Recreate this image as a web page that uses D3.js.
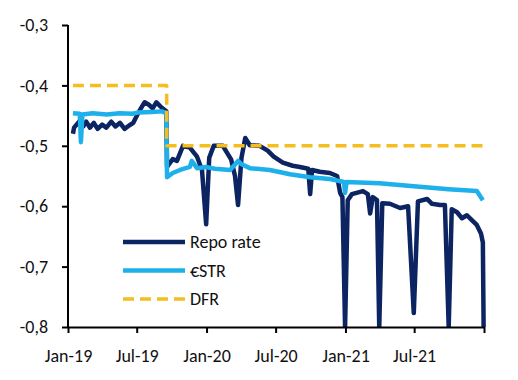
<!DOCTYPE html>
<html>
<head>
<meta charset="utf-8">
<script src="https://cdn.jsdelivr.net/npm/d3@7"></script>
<style>
  body { margin: 0; background: #fff; }
  svg text { font-family: Carlito, Calibri, Lato, sans-serif; font-size: 18px; fill: #111; }
</style>
</head>
<body>
<svg id="chart" width="518" height="380"></svg>
<script>
// values (percent)
const repoDates = ["2019-01-14","2019-01-17","2019-02-03","2019-02-10","2019-02-18","2019-02-28","2019-03-10","2019-03-20","2019-04-01","2019-04-12","2019-04-25","2019-05-06","2019-05-18","2019-05-30","2019-06-12","2019-06-22","2019-07-03","2019-07-14","2019-07-22","2019-08-02","2019-08-12","2019-08-22","2019-09-05","2019-09-17","2019-09-19","2019-09-27","2019-10-04","2019-10-15","2019-10-31","2019-11-18","2019-12-07","2019-12-20","2019-12-31","2020-01-08","2020-01-20","2020-02-13","2020-03-06","2020-03-16","2020-03-24","2020-04-02","2020-04-12","2020-04-24","2020-05-20","2020-06-10","2020-06-26","2020-07-20","2020-08-15","2020-09-03","2020-09-25","2020-09-30","2020-10-05","2020-10-25","2020-11-21","2020-12-10","2020-12-18","2020-12-24","2020-12-31","2021-01-07","2021-01-18","2021-02-16","2021-03-01","2021-03-07","2021-03-14","2021-03-25","2021-03-31","2021-04-08","2021-04-28","2021-05-25","2021-06-15","2021-06-30","2021-07-11","2021-08-04","2021-08-17","2021-09-07","2021-09-20","2021-09-30","2021-10-08","2021-10-22","2021-11-04","2021-11-17","2021-11-30","2021-12-13","2021-12-24","2021-12-29","2021-12-31"];
const repoValues = [-0.48,-0.47,-0.457,-0.468,-0.46,-0.47,-0.462,-0.472,-0.465,-0.47,-0.46,-0.468,-0.462,-0.472,-0.466,-0.462,-0.448,-0.436,-0.428,-0.432,-0.438,-0.428,-0.437,-0.443,-0.535,-0.528,-0.522,-0.525,-0.5,-0.503,-0.518,-0.54,-0.63,-0.52,-0.5,-0.5,-0.523,-0.55,-0.598,-0.52,-0.487,-0.499,-0.5,-0.508,-0.518,-0.528,-0.533,-0.535,-0.538,-0.58,-0.54,-0.543,-0.545,-0.55,-0.578,-0.585,-0.8,-0.59,-0.58,-0.575,-0.58,-0.612,-0.585,-0.59,-0.8,-0.595,-0.596,-0.603,-0.6,-0.777,-0.592,-0.588,-0.596,-0.598,-0.598,-0.8,-0.605,-0.61,-0.62,-0.615,-0.623,-0.631,-0.645,-0.66,-0.8];

const estrDates = ["2019-01-14","2019-02-01","2019-02-04","2019-02-08","2019-03-07","2019-04-13","2019-05-17","2019-06-20","2019-07-03","2019-08-09","2019-09-05","2019-09-17","2019-09-19","2019-10-04","2019-10-23","2019-11-18","2019-11-23","2019-12-07","2019-12-31","2020-01-23","2020-03-03","2020-03-24","2020-04-01","2020-04-24","2020-06-16","2020-08-08","2020-09-30","2020-11-21","2020-12-28","2020-12-31","2021-01-04","2021-03-31","2021-06-30","2021-09-30","2021-12-13","2021-12-29"];
const estrValues = [-0.446,-0.447,-0.494,-0.448,-0.446,-0.448,-0.446,-0.447,-0.445,-0.444,-0.443,-0.446,-0.552,-0.545,-0.54,-0.535,-0.525,-0.537,-0.535,-0.538,-0.54,-0.525,-0.53,-0.537,-0.54,-0.547,-0.552,-0.555,-0.56,-0.578,-0.56,-0.562,-0.567,-0.572,-0.575,-0.59];

const dfrDates = ["2019-01-14","2019-09-18","2019-09-18","2021-12-31"];
const dfrValues = [-0.4,-0.4,-0.5,-0.5];

const yTicks = [-0.8,-0.7,-0.6,-0.5,-0.4,-0.3];
const xTicks = ["2019-01-01","2019-07-01","2020-01-01","2020-07-01","2021-01-01","2021-07-01","2022-01-01"];
const seriesNames = ["Repo rate","€STR","DFR"];
const colors = ["#0c2462","#1db0ea","#f5bd20"];

const parse = d3.timeParse("%Y-%m-%d");
const svg = d3.select("#chart");

const x = d3.scaleTime().domain([parse("2019-01-01"), parse("2022-01-01")]).range([68, 484]);
const y = d3.scaleLinear().domain([-0.8, -0.3]).range([327, 25]);

svg.append("clipPath").attr("id", "plot")
  .append("rect").attr("x", 60).attr("y", 10).attr("width", 440).attr("height", 317);

const toPoints = (dates, vals) => dates.map((d, i) => ({ date: parse(d), v: vals[i] }));
const series = [
  toPoints(repoDates, repoValues),
  toPoints(estrDates, estrValues),
  toPoints(dfrDates, dfrValues)
];

const line = d3.line().x(d => x(d.date)).y(d => y(d.v));

series.forEach((pts, i) => {
  svg.append("path")
    .datum(pts)
    .attr("clip-path", "url(#plot)")
    .attr("fill", "none")
    .attr("stroke", colors[i])
    .attr("stroke-width", i === 2 ? 3.5 : 4.5)
    .attr("stroke-linejoin", "round")
    .attr("stroke-dasharray", i === 2 ? "11,6" : null)
    .attr("d", line);
});

// axes
const fmt = d => d3.format(".1f")(d).replace("−", "-").replace(".", ",");
const yAxis = svg.append("g").attr("transform", "translate(68,0)")
  .call(d3.axisLeft(y).tickValues(yTicks).tickSize(6).tickSizeOuter(0).tickPadding(14).tickFormat(fmt));

const xAxis = svg.append("g").attr("transform", "translate(0,327)")
  .call(d3.axisBottom(x).tickValues(xTicks.map(parse)).tickSize(6).tickSizeOuter(0).tickPadding(16)
    .tickFormat(d => d.getFullYear() === 2022 ? "" : d3.timeFormat("%b-%y")(d)));

[yAxis, xAxis].forEach(g => {
  g.selectAll("path, line").attr("stroke", "#000").attr("stroke-width", 2);
  g.selectAll("text").attr("font-size", null).attr("font-family", null);
});
yAxis.select(".domain").attr("d", "M0,25V327");

// legend
const legend = svg.append("g");
seriesNames.forEach((name, i) => {
  const ly = 242 + i * 28.5;
  legend.append("line")
    .attr("x1", 123).attr("x2", 185).attr("y1", ly).attr("y2", ly)
    .attr("stroke", colors[i])
    .attr("stroke-width", i === 2 ? 3.5 : 4.5)
    .attr("stroke-dasharray", i === 2 ? "11,6" : null);
  legend.append("text")
    .attr("x", 190).attr("y", ly).attr("dy", "0.35em")
    .text(name);
});
</script>
</body>
</html>
